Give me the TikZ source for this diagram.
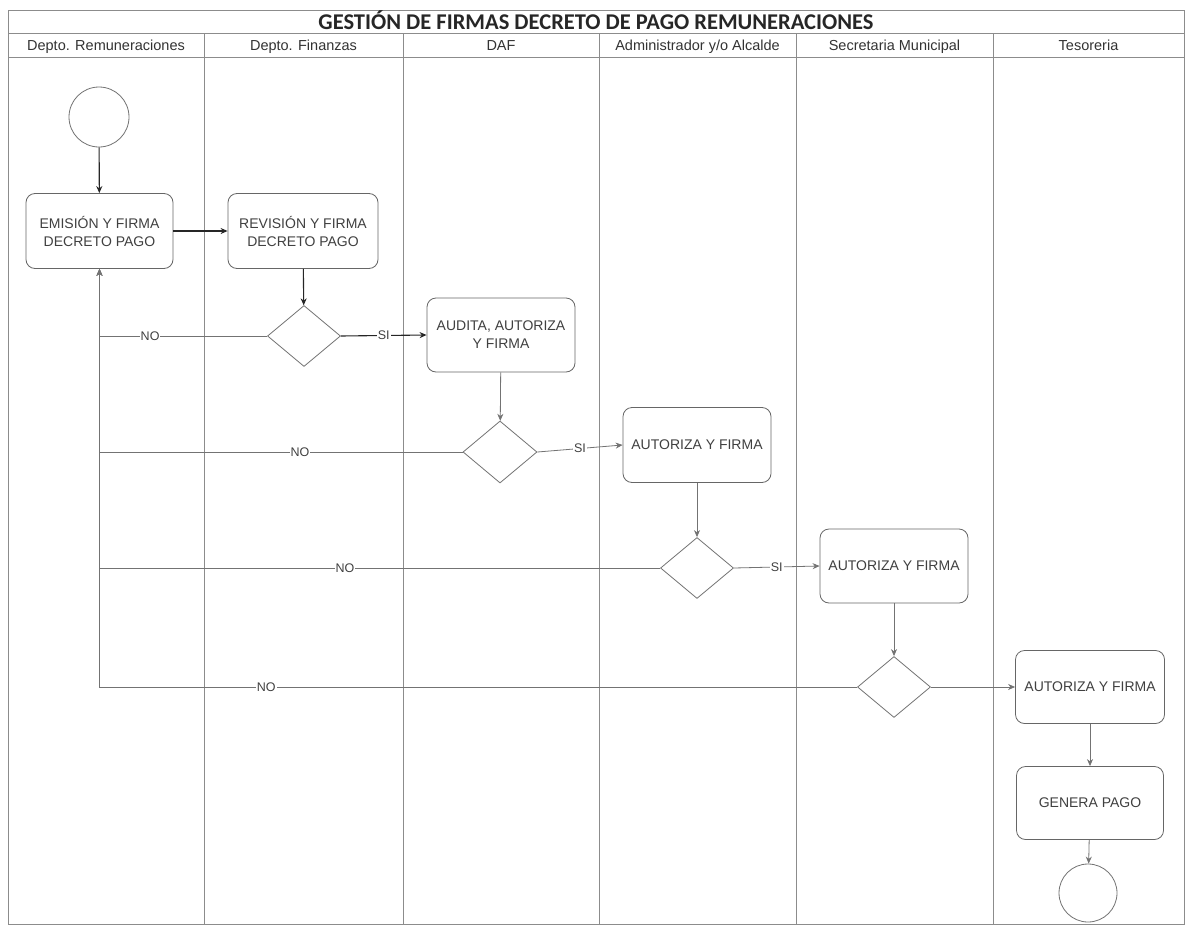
\documentclass[tikz,border=0pt]{standalone}
\usepackage{fontspec}
\setmainfont{Liberation Sans}
\newfontfamily\titlefont{Carlito}
\usetikzlibrary{shapes.geometric,arrows.meta}
\begin{document}
\begin{tikzpicture}[x=1pt,y=-1pt,
  lane/.style={draw=black!45, line width=0.7pt},
  lanehead/.style={font=\fontsize{14.5}{16}\selectfont, text=black!80, inner sep=0pt, anchor=base},
  titletext/.style={font=\titlefont\bfseries\fontsize{22.5}{24}\selectfont, text=black!85, inner sep=0pt, anchor=base},
  stepbox/.style={draw=black!60, line width=0.8pt, rounded corners=9pt, minimum width=148pt, minimum height=75pt, align=center, font=\fontsize{14}{18}\selectfont, text=black!75, inner sep=2pt},
  dia/.style={draw=black!55, diamond, aspect=1.2, minimum width=73pt, minimum height=61pt, inner sep=0pt, line width=0.8pt},
  ev/.style={draw=black!55, circle, minimum size=60pt, inner sep=0pt, line width=0.8pt},
  flow/.style={draw=black!55, line width=0.8pt, -{Stealth[length=7pt,width=6pt]}},
  flowdark/.style={flow, draw=black!85, line width=1.1pt},
  lbl/.style={fill=white, inner sep=1pt, font=\fontsize{12.5}{13}\selectfont, text=black!75}
]
\useasboundingbox (0,0) rectangle (1186,926);
\fill[white] (0,0) rectangle (1186,926);

% swimlane frame
\draw[lane] (8,10) rectangle (1184,924);
\draw[lane] (8,33) -- (1184,33);
\draw[lane] (8,57) -- (1184,57);
\foreach \x in {204,403,599,796,993} \draw[lane] (\x,33) -- (\x,924);

\node[titletext] (title) at (596,29) {GESTIÓN DE FIRMAS DECRETO DE PAGO REMUNERACIONES};
\node[lanehead] (h1) at (106,50) {Depto. Remuneraciones};
\node[lanehead] (h2) at (303.5,50) {Depto. Finanzas};
\node[lanehead] (h3) at (501,50) {DAF};
\node[lanehead] (h4) at (697.5,50) {Administrador y/o Alcalde};
\node[lanehead] (h5) at (894.5,50) {Secretaria Municipal};
\node[lanehead] (h6) at (1088.5,50) {Tesoreria};

% nodes
\node[ev] (start) at (99,117) {};
\node[stepbox, minimum width=147pt] (b1) at (99.5,231) {EMISIÓN Y FIRMA\\DECRETO PAGO};
\node[stepbox, minimum width=150pt] (b2) at (303,231) {REVISIÓN Y FIRMA\\DECRETO PAGO};
\node[dia] (d1) at (304,336) {};
\node[stepbox, minimum height=74pt] (b3) at (501,335) {AUDITA, AUTORIZA\\Y FIRMA};
\node[dia, minimum width=74pt, minimum height=62pt] (d2) at (500,452) {};
\node[stepbox] (b4) at (697,445) {AUTORIZA Y FIRMA};
\node[dia] (d3) at (697,568) {};
\node[stepbox, minimum height=74pt] (b5) at (894,566) {AUTORIZA Y FIRMA};
\node[dia] (d4) at (894,687) {};
\node[stepbox, minimum width=149pt, minimum height=73pt] (b6) at (1090,687) {AUTORIZA Y FIRMA};
\node[stepbox, minimum width=147pt, minimum height=73pt] (b7) at (1090,803) {GENERA PAGO};
\node[ev, minimum size=58pt] (end) at (1088,893) {};

% main flow
\draw[flowdark] (start) -- (b1);
\draw[flowdark] (b1) -- (b2);
\draw[flowdark] (b2) -- (d1);
\draw[flowdark] (d1.east) -- node[lbl, pos=0.5] {SI} (b3.west);
\draw[flow] (b3) -- (d2);
\draw[flow] (d2.east) -- node[lbl, pos=0.5] {SI} (b4.west);
\draw[flow] (b4) -- (d3);
\draw[flow] (d3.east) -- node[lbl, pos=0.5] {SI} (b5.west);
\draw[flow] (b5) -- (d4);
\draw[flow] (d4.east) -- (b6.west);
\draw[flow] (b6) -- (b7);
\draw[flow] (b7) -- (end);

% return paths (NO)
\draw[flow] (d4.west) -| node[lbl, pos=0.39] {NO} (b1.south);
\draw[flow] (d3.west) -| node[lbl, pos=0.281] {NO} (b1.south);
\draw[flow] (d2.west) -| node[lbl, pos=0.224] {NO} (b1.south);
\draw[flow] (d1.west) -| node[lbl, pos=0.349] {NO} (b1.south);
\end{tikzpicture}
\end{document}
